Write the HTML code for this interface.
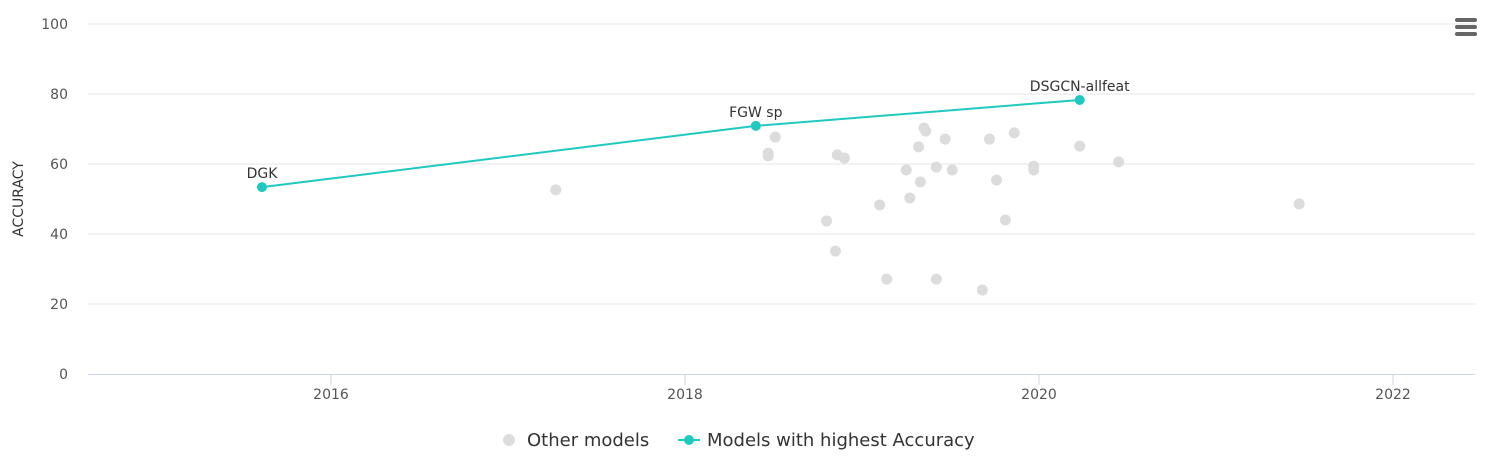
<!DOCTYPE html>
<html><head><meta charset="utf-8">
<style>
html,body{margin:0;padding:0;background:#fff;}
body{width:1494px;height:462px;overflow:hidden;font-family:"DejaVu Sans","Liberation Sans",sans-serif;}
svg text{font-family:"DejaVu Sans","Liberation Sans",sans-serif;}
</style></head>
<body>
<svg id="chart" width="1494" height="462" xmlns="http://www.w3.org/2000/svg">
<g id="grid"></g><g id="axes"></g><g id="marks"></g>
<g fill="#666">
<rect x="1455" y="18" width="22" height="4" rx="2"/><rect x="1455" y="25" width="22" height="4" rx="2"/><rect x="1455" y="32" width="22" height="4" rx="2"/>
</g>
<text transform="translate(23,199) rotate(-90)" text-anchor="middle" font-size="14" fill="#333">ACCURACY</text>
<g>
<g><circle cx="509" cy="440" r="6" fill="#ddd"/><text x="527" y="446" font-size="18" fill="#333">Other models</text></g>
<g><line x1="678" y1="440" x2="700" y2="440" stroke="#20c9c0" stroke-width="2"/><circle cx="689" cy="440" r="5" fill="#20c9c0"/><text x="707" y="446" font-size="18" fill="#333">Models with highest Accuracy</text></g>
</g>
</svg>
<script>
const yTicks=[0,20,40,60,80,100];
const xTicks=[2016,2018,2020,2022];
const otherX=[2017.27,2018.47,2018.47,2018.51,2018.80,2018.85,2018.86,2018.90,2019.10,2019.14,2019.25,2019.27,2019.32,2019.33,2019.35,2019.36,2019.42,2019.42,2019.47,2019.51,2019.68,2019.72,2019.76,2019.81,2019.86,2019.97,2019.97,2020.23,2020.45,2021.47];
const otherY=[52.6,63.1,62.3,67.7,43.7,35.1,62.6,61.7,48.3,27.1,58.3,50.3,64.9,54.9,70.3,69.4,59.1,27.1,67.1,58.3,24.0,67.1,55.4,44.0,68.9,59.4,58.3,65.1,60.6,48.6];
const bestX=[2015.61,2018.40,2020.23];
const bestY=[53.4,70.9,78.3];
const bestLabels=["DGK","FGW sp","DSGCN-allfeat"];
const NS="http://www.w3.org/2000/svg";
const X=v=>331+(v-2016)*177, Y=v=>374-v*3.5;
function mk(t,a,p){const e=document.createElementNS(NS,t);for(const k in a)e.setAttribute(k,a[k]);p.appendChild(e);return e;}
const grid=document.getElementById('grid'),axes=document.getElementById('axes'),marks=document.getElementById('marks');
yTicks.forEach(t=>{
 if(t>0){const l=mk('line',{x1:88,x2:1475,y1:Y(t),y2:Y(t),stroke:'#e6e6e6','stroke-width':1},grid);
 
 }
 const tx=mk('text',{x:68,y:Y(t)+5,'text-anchor':'end','font-size':14,fill:'#555'},axes);tx.textContent=t;
 
 
});
const ax=mk('line',{x1:88,x2:1475,y1:374.5,y2:374.5,stroke:'#ccd6eb','stroke-width':1},axes);


xTicks.forEach(t=>{
 mk('line',{x1:X(t),x2:X(t),y1:375,y2:385,stroke:'#ccd6eb'},axes);
 const tx=mk('text',{x:X(t),y:399,'text-anchor':'middle','font-size':14,fill:'#555'},axes);tx.textContent=t;
 
 
});
otherX.forEach((x,i)=>{
 const c=mk('circle',{cx:X(x),cy:Y(otherY[i]),r:5.5,fill:'#dcdcdc'},marks);
 
 
});
const pl=mk('polyline',{points:bestX.map((x,i)=>X(x)+','+Y(bestY[i])).join(' '),fill:'none',stroke:'#20c9c0','stroke-width':2},marks);


bestX.forEach((x,i)=>{
 const c=mk('circle',{cx:X(x),cy:Y(bestY[i]),r:5,fill:'#20c9c0'},marks);
 
 
 const t=mk('text',{x:X(x),y:Y(bestY[i])-9,'text-anchor':'middle','font-size':14,fill:'#333'},marks);t.textContent=bestLabels[i];
 
 
});
</script>
</body></html>
